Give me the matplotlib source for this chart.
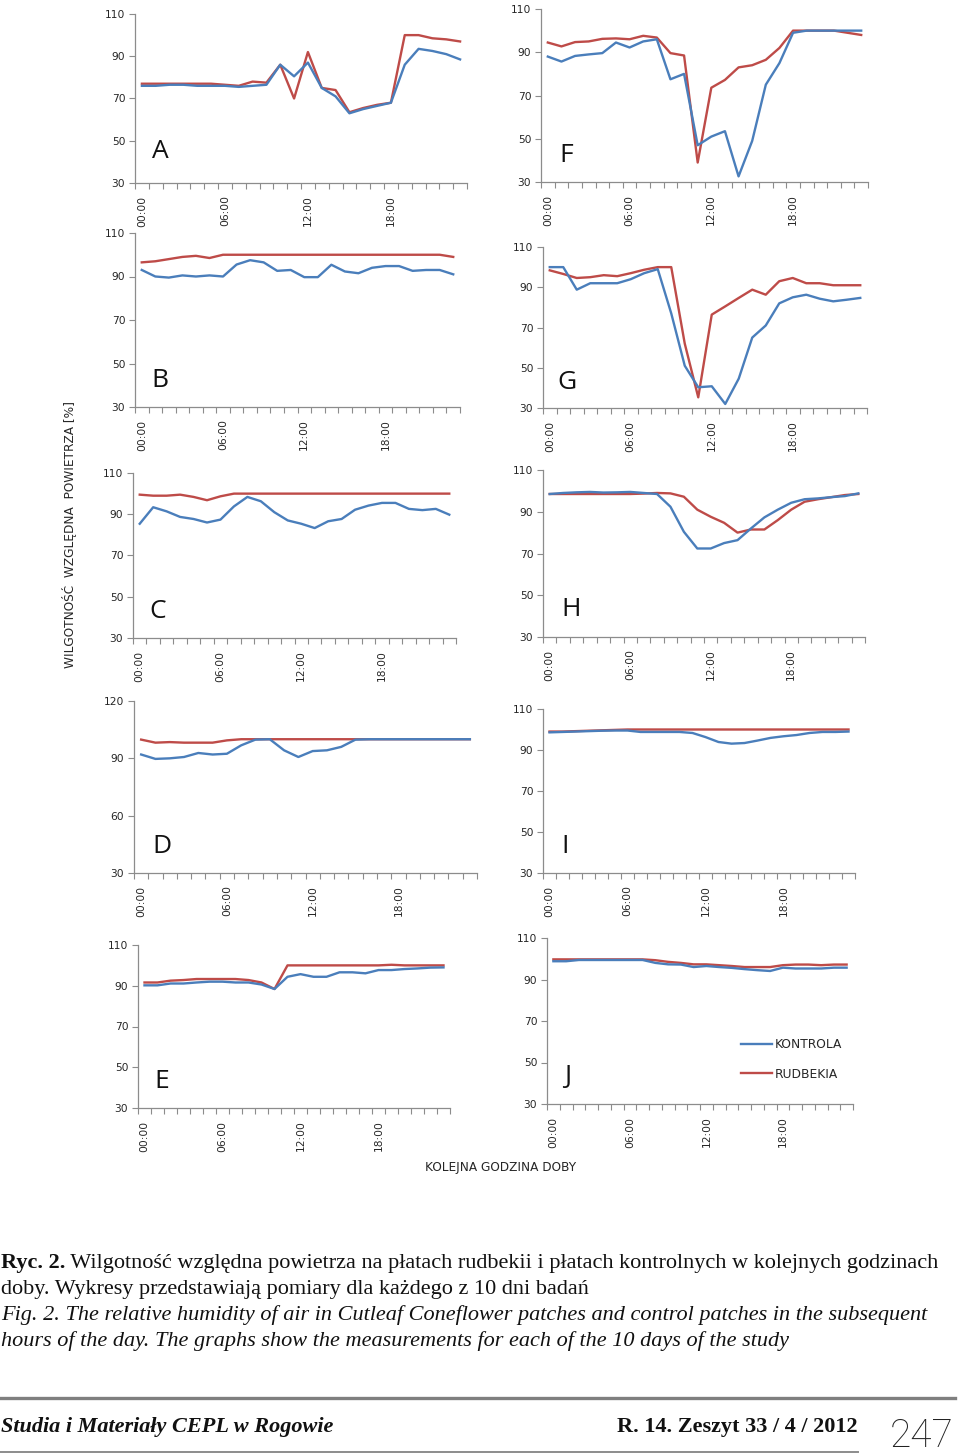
import matplotlib
matplotlib.use("Agg")
import matplotlib.pyplot as plt
import numpy as np

# ---------------- data ----------------
hours = list(range(24))                      # hourly categories 00:00 .. 23:00
tick_positions = [0, 6, 12, 18]
tick_labels = ["00:00", "06:00", "12:00", "18:00"]
series_names = ["KONTROLA", "RUDBEKIA"]

A_kontrola = [76, 76, 76.5, 76.5, 76, 76, 76, 75.5, 76, 76.5, 86, 80.5, 87, 75, 71, 63, 65, 66.5, 68, 86, 93.5, 92.5, 91, 88.5]
A_rudbekia = [77, 77, 77, 77, 77, 77, 76.5, 76, 78, 77.5, 86, 70, 92, 75, 74, 63.5, 65.5, 67, 68, 100, 100, 98.5, 98, 97]

B_kontrola = [93, 90, 89.5, 90.5, 90, 90.5, 90, 95.5, 97.5, 96.5, 92.6, 93, 89.7, 89.7, 95.4, 92.3, 91.5, 94, 94.8, 94.8, 92.6, 93, 93, 91]
B_rudbekia = [96.5, 97, 98, 99, 99.5, 98.5, 100, 100, 100, 100, 100, 100, 100, 100, 100, 100, 100, 100, 100, 100, 100, 100, 100, 99]

C_kontrola = [85.4, 93.4, 91.4, 88.7, 87.7, 86, 87.4, 93.8, 98.4, 96.3, 91, 87, 85.4, 83.3, 86.6, 87.7, 92.2, 94.2, 95.5, 95.5, 92.6, 92, 92.6, 89.8]
C_rudbekia = [99.5, 99, 99, 99.5, 98.4, 96.8, 98.7, 100, 100, 100, 100, 100, 100, 100, 100, 100, 100, 100, 100, 100, 100, 100, 100, 100]

D_kontrola = [92, 89.7, 90, 90.7, 92.8, 92, 92.4, 96.8, 99.8, 100, 94.2, 90.7, 93.8, 94.2, 96, 99.8, 100, 100, 100, 100, 100, 100, 100, 100]
D_rudbekia = [99.8, 98.2, 98.5, 98.2, 98.2, 98.2, 99.4, 100, 100, 100, 100, 100, 100, 100, 100, 100, 100, 100, 100, 100, 100, 100, 100, 100]

E_kontrola = [90.2, 90.2, 91.1, 91.1, 91.6, 92, 92, 91.6, 91.6, 90.6, 88.4, 94.4, 95.7, 94.4, 94.4, 96.6, 96.6, 96.1, 97.7, 97.7, 98.2, 98.5, 98.9, 99]
E_rudbekia = [91.6, 91.6, 92.5, 92.8, 93.3, 93.3, 93.3, 93.3, 92.8, 91.6, 88.4, 100, 100, 100, 100, 100, 100, 100, 100, 100.3, 100, 100, 100, 100]

F_kontrola = [88, 85.7, 88.3, 89, 89.6, 94.5, 92.2, 95, 96, 77.5, 80, 47, 51, 53.5, 32.6, 49, 75, 85, 99, 100, 100, 100, 100, 100]
F_rudbekia = [94.5, 92.7, 94.7, 95, 96.2, 96.4, 96, 97.6, 96.8, 89.6, 88.5, 39, 73.6, 77.2, 83, 84, 86.5, 92, 100, 100, 100, 100, 99, 98]

G_kontrola = [100, 100, 88.8, 92, 92, 92, 94, 97, 99, 77, 51, 40.3, 40.8, 32, 44.6, 65, 71, 82, 85, 86.3, 84.3, 83, 83.8, 84.7]
G_rudbekia = [98.4, 96.6, 94.6, 95, 96, 95.5, 97, 98.7, 100, 100, 62, 35.3, 76.4, 80.5, 84.7, 88.8, 86.3, 93, 94.6, 92, 92, 91, 91, 91]

H_kontrola = [98.5, 99, 99.3, 99.5, 99.2, 99.3, 99.5, 99, 98.5, 92.4, 80.4, 72.4, 72.4, 75, 76.4, 82, 87.3, 91, 94.3, 96, 96.4, 97, 97.5, 98.8]
H_rudbekia = [98.5, 98.5, 98.5, 98.5, 98.5, 98.5, 98.5, 98.7, 99, 98.8, 97.2, 91, 87.6, 84.7, 80, 81.5, 81.5, 86, 91, 94.8, 96, 97, 98, 98.5]

I_kontrola = [98.6, 98.8, 99, 99.2, 99.4, 99.5, 99.5, 98.8, 98.8, 98.8, 98.8, 98.3, 96.3, 93.9, 93.1, 93.4, 94.6, 95.9, 96.7, 97.3, 98.3, 98.8, 98.8, 99]
I_rudbekia = [99, 99, 99.2, 99.4, 99.6, 99.8, 100, 100, 100, 100, 100, 100, 100, 100, 100, 100, 100, 100, 100, 100, 100, 100, 100, 100]

J_kontrola = [98.8, 98.8, 99.4, 99.4, 99.4, 99.4, 99.4, 99.4, 98, 97.3, 97.2, 96, 96.5, 96, 95.6, 95, 94.5, 94.1, 95.7, 95.3, 95.3, 95.3, 95.7, 95.7]
J_rudbekia = [99.7, 99.7, 99.7, 99.7, 99.7, 99.7, 99.7, 99.7, 99.3, 98.5, 98, 97.3, 97.3, 96.9, 96.5, 96, 96, 96, 96.9, 97.2, 97.2, 96.9, 97.2, 97.2]

yticks_std = [30, 50, 70, 90, 110]
yticks_D = [30, 60, 90, 120]

# ---------------- layout ----------------
W, H = 960, 1456
fig = plt.figure(figsize=(W / 100, H / 100), dpi=100)
fig.patch.set_facecolor("white")

BLUE = "#4A7EBB"
RED = "#BE4B48"
AXC = "#8C8C8C"
TXT = "#262626"

def fbox(x0, x1, ytop, ybot):
    return [x0 / W, 1 - ybot / H, (x1 - x0) / W, (ybot - ytop) / H]

panels = [
    ("A", A_kontrola, A_rudbekia, yticks_std, fbox(135, 467, 14, 183), (152, 158)),
    ("F", F_kontrola, F_rudbekia, yticks_std, fbox(541, 868, 9, 182), (559, 162)),
    ("B", B_kontrola, B_rudbekia, yticks_std, fbox(135, 460, 233, 407), (151, 387)),
    ("G", G_kontrola, G_rudbekia, yticks_std, fbox(543, 867, 247, 408), (557, 389)),
    ("C", C_kontrola, C_rudbekia, yticks_std, fbox(133, 456, 473, 638), (149, 618)),
    ("H", H_kontrola, H_rudbekia, yticks_std, fbox(543, 865, 470, 637), (561, 616)),
    ("D", D_kontrola, D_rudbekia, yticks_D, fbox(134, 477, 701, 873), (152, 853)),
    ("I", I_kontrola, I_rudbekia, yticks_std, fbox(543, 855, 709, 873), (561, 853)),
    ("E", E_kontrola, E_rudbekia, yticks_std, fbox(138, 450, 945, 1108), (154, 1088)),
    ("J", J_kontrola, J_rudbekia, yticks_std, fbox(547, 853, 938, 1104), (564, 1083)),
]

axes = {}
for letter, kon, rud, yt, box, lpos in panels:
    ax = fig.add_axes(box)
    axes[letter] = ax
    ax.plot(hours, rud, color=RED, lw=1.7, zorder=3, label=series_names[1])
    ax.plot(hours, kon, color=BLUE, lw=1.7, zorder=4, label=series_names[0])
    ax.set_xlim(-0.5, 23.5)
    ax.set_ylim(yt[0], yt[-1])
    ax.set_yticks(yt)
    ax.set_yticklabels([str(v) for v in yt])
    ax.set_xticks(tick_positions)
    ax.set_xticklabels(tick_labels, rotation=90)
    ax.set_xticks(np.arange(-0.5, 24, 1), minor=True)
    ax.tick_params(axis="x", which="major", length=0, pad=9, labelsize=7.7, labelcolor=TXT)
    ax.tick_params(axis="x", which="minor", length=4, width=0.8, color=AXC, direction="out")
    ax.tick_params(axis="y", length=4, width=0.8, color=AXC, pad=3, labelsize=7.7, labelcolor=TXT)
    for s in ("top", "right"):
        ax.spines[s].set_visible(False)
    for s in ("left", "bottom"):
        ax.spines[s].set_color(AXC)
        ax.spines[s].set_linewidth(0.9)
    ax.patch.set_alpha(0)
    fig.text(lpos[0] / W, 1 - lpos[1] / H, letter, fontsize=19, family="Open Sans",
             color="#111111", ha="left", va="baseline")

# legend in panel J
handles = [axes["J"].lines[1], axes["J"].lines[0]]
fig.legend(handles, series_names, loc="upper left", frameon=False,
           bbox_to_anchor=(741 / W, 1 - 1038 / H), bbox_transform=fig.transFigure,
           fontsize=8.8, handlelength=2.5, handletextpad=0.3, labelspacing=1.35,
           borderpad=0, borderaxespad=0, labelcolor=TXT)

# axis titles
fig.text(70 / W, 1 - 534 / H, "WILGOTNOŚĆ  WZGLĘDNA  POWIETRZA [%]", rotation=90,
         ha="center", va="center", fontsize=8.7, color=TXT)
fig.text(501 / W, 1 - 1167 / H, "KOLEJNA GODZINA DOBY", ha="center", va="center",
         fontsize=8.7, color=TXT)

# ---------------- caption ----------------
renderer = fig.canvas.get_renderer()
SERIF = ["Liberation Serif", "DejaVu Serif"]
CAP_FS = 16.0

def runs(x_px, base_px, parts, fs=CAP_FS):
    x = x_px
    for txt, kw in parts:
        t = fig.text(x / W, 1 - base_px / H, txt, fontsize=fs, family=SERIF,
                     ha="left", va="baseline", color="#111111", **kw)
        bb = t.get_window_extent(renderer=renderer)
        x += bb.width

runs(1, 1268, [("Ryc. 2.", {"fontweight": "bold"}),
               (" Wilgotność względna powietrza na płatach rudbekii i płatach kontrolnych w kolejnych godzinach", {})])
runs(1, 1294, [("doby. Wykresy przedstawiają pomiary dla każdego z 10 dni badań", {})])
runs(1, 1320, [("Fig. 2. The relative humidity of air in Cutleaf Coneflower patches and control patches in the subsequent", {"style": "italic"})])
runs(1, 1346, [("hours of the day. The graphs show the measurements for each of the 10 days of the study", {"style": "italic"})])

# ---------------- footer ----------------
fig.add_artist(plt.Line2D([0, 955 / W], [1 - 1398 / H] * 2, color="#7F7F7F", lw=2.4,
                          transform=fig.transFigure))
fig.add_artist(plt.Line2D([0, 858 / W], [1 - 1452 / H] * 2, color="#8C8C8C", lw=1.4,
                          transform=fig.transFigure))
fig.text(1 / W, 1 - 1432 / H, "Studia i Materiały CEPL w Rogowie", fontsize=16.0,
         family=SERIF, fontweight="bold", style="italic", ha="left", va="baseline", color="#111111")
fig.text(858 / W, 1 - 1432 / H, "R. 14. Zeszyt 33 / 4 / 2012", fontsize=16.0,
         family=SERIF, fontweight="bold", ha="right", va="baseline", color="#111111")
fig.text(922 / W, 1 - 1455 / H, "247", fontsize=28, family="Roboto",
         fontweight="light", ha="center", va="bottom", color="#222222")

fig.savefig("out.png", dpi=100, facecolor="white")
